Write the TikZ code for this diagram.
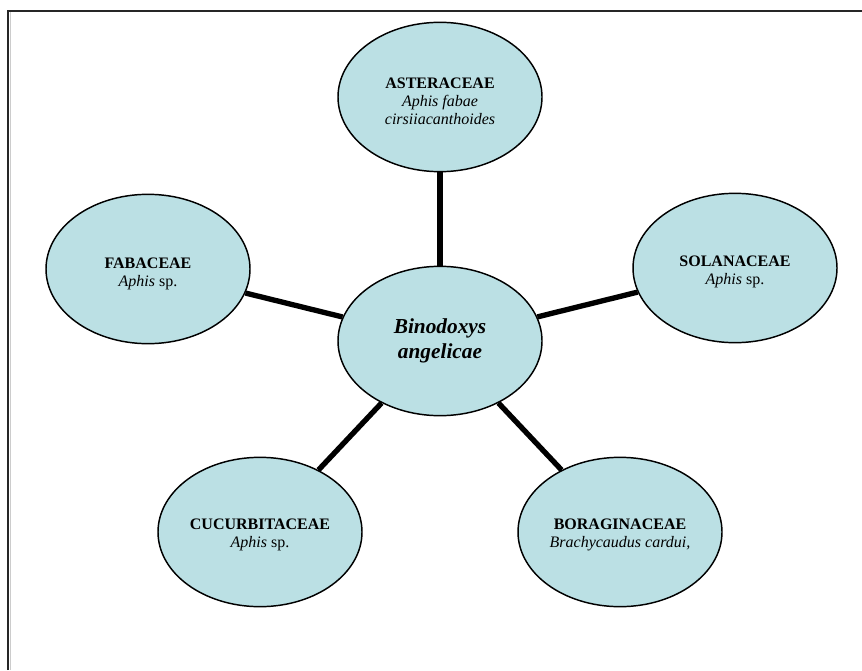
\documentclass[tikz,border=0pt]{standalone}
\usepackage{fontspec}
\setmainfont{Liberation Serif}
\usetikzlibrary{shapes.geometric}
\definecolor{fillblue}{RGB}{187,224,228}
\begin{document}
\begin{tikzpicture}[x=0.75pt,y=-0.75pt,
  blob/.style={ellipse, draw=black, line width=1.1pt, fill=fillblue,
    minimum width=153pt, minimum height=112pt, inner sep=0pt},
  txt/.style={align=center, inner sep=0pt, font=\fontsize{12}{13.6}\selectfont},
  link/.style={line width=4pt, black}]
\useasboundingbox (0,0) rectangle (862,670);
\draw[line width=1.1pt, black!85] (8,670) -- (8,11) -- (862,11);
\draw[line width=0.6pt, black!20] (10,670) -- (10,12.5);
\node[blob] (cen) at (440,341) {};
\node[blob] (ast) at (440,97) {};
\node[blob] (fab) at (148,269) {};
\node[blob] (sol) at (735,268) {};
\node[blob] (cuc) at (260,532) {};
\node[blob] (bor) at (620,532) {};
\node[txt, font=\fontsize{16}{19}\selectfont\bfseries\itshape] (cent) at (cen.center) {Binodoxys\\ angelicae};
\node[txt] (astt) at ([yshift=-3pt]ast.center) {\textbf{ASTERACEAE}\\ \textit{Aphis fabae}\\ \textit{cirsiiacanthoides}};
\node[txt] (fabt) at ([yshift=-3.5pt]fab.center) {\textbf{FABACEAE}\\ \textit{Aphis} sp.};
\node[txt] (solt) at ([yshift=-3pt]sol.center) {\textbf{SOLANACEAE}\\ \textit{Aphis} sp.};
\node[txt] (cuct) at ([yshift=-2pt]cuc.center) {\textbf{CUCURBITACEAE}\\ \textit{Aphis} sp.};
\node[txt] (bort) at ([yshift=-2pt]bor.center) {\textbf{BORAGINACEAE}\\ \textit{Brachycaudus cardui,}};
\draw[link] (cen) -- (ast);
\draw[link] (cen) -- (fab);
\draw[link] (cen) -- (sol);
\draw[link] (cen) -- (cuc);
\draw[link] (cen) -- (bor);
\end{tikzpicture}
\end{document}
